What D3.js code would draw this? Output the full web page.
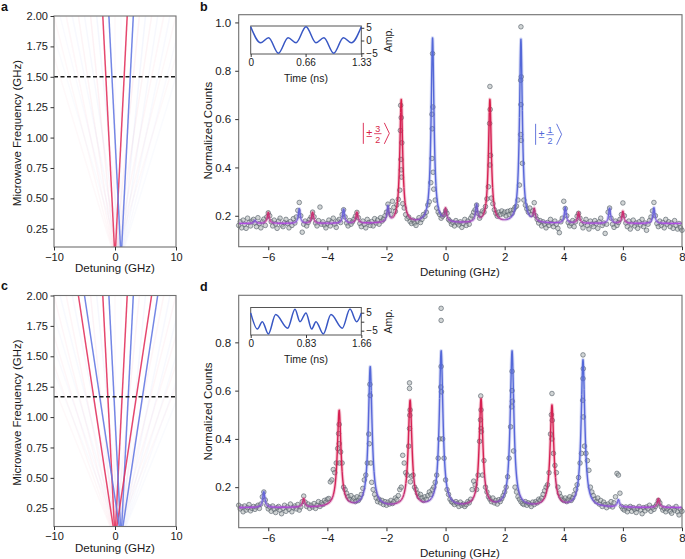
<!DOCTYPE html>
<html><head><meta charset="utf-8">
<script src="https://cdn.jsdelivr.net/npm/d3@7"></script>
<style>body{margin:0;background:#fff}</style>
</head><body>
<script>
// ---------------- DATA ----------------
// Fan diagrams (panels a, c)
const fanDetDomain = [-10, 10];
const fanFreqDomain = [0.1, 2.0];
const fanFreqTicks = [0.25, 0.5, 0.75, 1.0, 1.25, 1.5, 1.75, 2.0];
const fanDetTicks = [-10, 0, 10];
const fanRedOffset = 0.0;   // |±3/2> line origin (GHz)
const fanBlueOffset = 1.0;  // |±1/2> line origin (GHz)
const fanOrders = [0, 1, 2, 3, 4, 5, 6, 7, 8];
const fanAlphaA = [0.03, 0.9, 0.07, 0.055, 0.045, 0.035, 0.03, 0, 0];
const fanAlphaC = [0.03, 0.9, 0.06, 0.9, 0.05, 0.045, 0.04, 0.035, 0.03];
const dashFreqA = 1.5;
const dashFreqC = 1.167;

// Spectra (panels b, d)
const detDomain = [-7, 8];
const detTicks = [-6, -4, -2, 0, 2, 4, 6, 8];
const countDomainB = [0.072, 1.032];
const countTicksB = [0.2, 0.4, 0.6, 0.8, 1.0];
const countDomainD = [0.032, 0.995];
const countTicksD = [0.2, 0.4, 0.6, 0.8];

// fitted peaks, panel b
const baselineB = 0.168;
const peakCentersB = [-6.45,-6.0,-4.95,-4.5,-3.45,-3.0,-1.95,-1.5,-0.44,0.0,1.05,1.5,2.55,3.0,4.05,4.5,5.55,6.0,7.05];
const peakKindsB   = ["b","r","b","r","b","r","b","r","b","r","b","r","b","r","b","r","b","r","b"];
const peakAmpsB    = [0.012,0.045,0.06,0.045,0.058,0.045,0.065,0.51,0.765,0.05,0.07,0.51,0.76,0.05,0.065,0.045,0.062,0.05,0.065];
const peakWidthsB  = [0.04,0.04,0.04,0.04,0.04,0.04,0.04,0.058,0.058,0.04,0.04,0.058,0.058,0.04,0.04,0.04,0.04,0.04,0.04];

// fitted peaks, panel d
const baselineD = 0.115;
const peakCentersD = [-6.15,-4.8,-3.6,-2.55,-1.2,-0.15,1.2,2.25,3.6,4.65,5.85,7.2];
const peakKindsD   = ["b","r","r","b","r","b","r","b","r","b","b","r"];
const peakAmpsD    = [0.065,0.035,0.40,0.58,0.44,0.645,0.445,0.645,0.42,0.61,0.03,0.036];
const peakWidthsD  = [0.045,0.045,0.075,0.075,0.075,0.075,0.075,0.075,0.075,0.075,0.045,0.045];

// measured counts, panel b  [detuning GHz, normalized counts]
const countsB = [
[-7.00,0.160],[-6.95,0.175],[-6.90,0.150],[-6.85,0.182],[-6.80,0.165],[-6.75,0.148],[-6.70,0.190],[-6.65,0.172],[-6.60,0.158],[-6.55,0.178],
[-6.50,0.185],[-6.45,0.170],[-6.40,0.155],[-6.35,0.192],[-6.30,0.168],[-6.25,0.150],[-6.20,0.176],[-6.15,0.186],[-6.10,0.160],[-6.05,0.195],
[-6.00,0.212],[-5.95,0.200],[-5.90,0.175],[-5.85,0.158],[-5.80,0.182],[-5.75,0.166],[-5.70,0.148],[-5.65,0.178],[-5.60,0.190],[-5.55,0.162],
[-5.50,0.155],[-5.45,0.172],[-5.40,0.185],[-5.35,0.168],[-5.30,0.150],[-5.25,0.176],[-5.20,0.160],[-5.15,0.188],[-5.10,0.170],[-5.05,0.195],
[-5.00,0.222],[-4.95,0.255],[-4.90,0.200],[-4.85,0.132],[-4.80,0.165],[-4.75,0.178],[-4.70,0.158],[-4.65,0.172],[-4.60,0.185],[-4.55,0.195],
[-4.50,0.215],[-4.45,0.196],[-4.40,0.170],[-4.35,0.158],[-4.30,0.180],[-4.25,0.236],[-4.20,0.165],[-4.15,0.175],[-4.10,0.162],[-4.05,0.150],
[-4.00,0.168],[-3.95,0.182],[-3.90,0.158],[-3.85,0.174],[-3.80,0.190],[-3.75,0.165],[-3.70,0.152],[-3.65,0.178],[-3.60,0.185],[-3.55,0.172],
[-3.50,0.205],[-3.45,0.225],[-3.40,0.195],[-3.35,0.170],[-3.30,0.158],[-3.25,0.180],[-3.20,0.165],[-3.15,0.175],[-3.10,0.186],[-3.05,0.198],
[-3.00,0.214],[-2.95,0.192],[-2.90,0.168],[-2.85,0.155],[-2.80,0.178],[-2.75,0.164],[-2.70,0.150],[-2.65,0.185],[-2.60,0.172],[-2.55,0.160],
[-2.50,0.176],[-2.45,0.158],[-2.40,0.188],[-2.35,0.170],[-2.30,0.182],[-2.25,0.165],[-2.20,0.192],[-2.15,0.178],[-2.10,0.186],[-2.05,0.200],
[-2.00,0.215],[-1.95,0.248],[-1.90,0.222],[-1.85,0.205],[-1.80,0.260],[-1.75,0.235],[-1.70,0.218],[-1.65,0.245],[-1.60,0.268],[-1.55,0.306],
[-1.50,0.390],[-1.45,0.250],[-1.40,0.232],[-1.35,0.205],[-1.30,0.188],[-1.25,0.195],[-1.20,0.176],[-1.15,0.168],[-1.10,0.182],[-1.05,0.170],
[-1.00,0.160],[-0.95,0.178],[-0.90,0.192],[-0.85,0.172],[-0.80,0.185],[-0.75,0.205],[-0.70,0.198],[-0.65,0.215],[-0.60,0.245],[-0.55,0.258],
[-0.50,0.337],[-0.45,0.560],[-0.40,0.310],[-0.35,0.265],[-0.30,0.232],[-0.25,0.215],[-0.20,0.205],[-0.15,0.190],[-0.10,0.198],[-0.05,0.205],
[0.00,0.220],[0.05,0.210],[0.10,0.185],[0.15,0.178],[0.20,0.165],[0.25,0.172],[0.30,0.158],[0.35,0.180],[0.40,0.170],[0.45,0.162],
[0.50,0.175],[0.55,0.152],[0.60,0.168],[0.65,0.185],[0.70,0.160],[0.75,0.178],[0.80,0.165],[0.85,0.190],[0.90,0.200],[0.95,0.215],
[1.00,0.225],[1.05,0.244],[1.10,0.210],[1.15,0.190],[1.20,0.205],[1.25,0.220],[1.30,0.215],[1.35,0.238],[1.40,0.270],[1.45,0.320],
[1.50,0.410],[1.55,0.273],[1.60,0.250],[1.65,0.225],[1.70,0.210],[1.75,0.198],[1.80,0.215],[1.85,0.205],[1.90,0.220],[1.95,0.208],
[2.00,0.215],[2.05,0.200],[2.10,0.218],[2.15,0.205],[2.20,0.222],[2.25,0.210],[2.30,0.225],[2.35,0.235],[2.40,0.240],[2.45,0.265],
[2.50,0.327],[2.55,0.660],[2.60,0.417],[2.65,0.265],[2.70,0.244],[2.75,0.228],[2.80,0.215],[2.85,0.232],[2.90,0.205],[2.95,0.220],
[3.00,0.254],[3.05,0.200],[3.10,0.185],[3.15,0.170],[3.20,0.180],[3.25,0.158],[3.30,0.175],[3.35,0.165],[3.40,0.150],[3.45,0.172],
[3.50,0.160],[3.55,0.185],[3.60,0.168],[3.65,0.155],[3.70,0.178],[3.75,0.165],[3.80,0.148],[3.85,0.130],[3.90,0.175],[3.95,0.190],
[4.00,0.260],[4.05,0.230],[4.10,0.200],[4.15,0.172],[4.20,0.158],[4.25,0.168],[4.30,0.180],[4.35,0.155],[4.40,0.175],[4.45,0.198],
[4.50,0.210],[4.55,0.190],[4.60,0.165],[4.65,0.150],[4.70,0.172],[4.75,0.185],[4.80,0.160],[4.85,0.145],[4.90,0.178],[4.95,0.165],
[5.00,0.155],[5.05,0.180],[5.10,0.168],[5.15,0.148],[5.20,0.175],[5.25,0.190],[5.30,0.160],[5.35,0.170],[5.40,0.127],[5.45,0.165],
[5.50,0.215],[5.55,0.232],[5.60,0.190],[5.65,0.165],[5.70,0.152],[5.75,0.178],[5.80,0.160],[5.85,0.172],[5.90,0.185],[5.95,0.205],
[6.00,0.253],[6.05,0.200],[6.10,0.170],[6.15,0.155],[6.20,0.178],[6.25,0.145],[6.30,0.165],[6.35,0.182],[6.40,0.158],[6.45,0.170],
[6.50,0.148],[6.55,0.175],[6.60,0.162],[6.65,0.185],[6.70,0.155],[6.75,0.170],[6.80,0.140],[6.85,0.165],[6.90,0.180],[6.95,0.195],
[7.00,0.220],[7.05,0.255],[7.10,0.200],[7.15,0.168],[7.20,0.155],[7.25,0.178],[7.30,0.160],[7.35,0.172],[7.40,0.150],[7.45,0.185],
[7.50,0.165],[7.55,0.175],[7.60,0.155],[7.65,0.170],[7.70,0.148],[7.75,0.180],[7.80,0.160],[7.85,0.145],[7.90,0.168],[7.95,0.150],[8.00,0.140],
[-1.52,0.657],[-1.50,0.606],[-1.53,0.553],[-1.48,0.502],[-1.51,0.433],[-1.49,0.360],
[-0.44,0.871],[-0.43,0.650],[-0.46,0.620],[-0.46,0.437],[-0.42,0.380],
[1.50,0.735],[1.51,0.640],[1.49,0.582],[1.52,0.450],
[2.55,0.982],[2.56,0.775],[2.54,0.761],[2.54,0.536],[2.56,0.512]
];

// measured counts, panel d
const countsD = [
[-7.00,0.125],[-6.95,0.110],[-6.90,0.118],[-6.85,0.098],[-6.80,0.122],[-6.75,0.105],[-6.70,0.115],[-6.65,0.128],[-6.60,0.102],[-6.55,0.112],
[-6.50,0.120],[-6.45,0.108],[-6.40,0.118],[-6.35,0.125],[-6.30,0.112],[-6.25,0.130],[-6.20,0.160],[-6.15,0.180],[-6.10,0.147],[-6.05,0.125],
[-6.00,0.110],[-5.95,0.118],[-5.90,0.100],[-5.85,0.122],[-5.80,0.108],[-5.75,0.095],[-5.70,0.115],[-5.65,0.120],[-5.60,0.105],[-5.55,0.090],
[-5.50,0.112],[-5.45,0.125],[-5.40,0.100],[-5.35,0.118],[-5.30,0.108],[-5.25,0.130],[-5.20,0.098],[-5.15,0.115],[-5.10,0.122],[-5.05,0.110],
[-5.00,0.128],[-4.95,0.105],[-4.90,0.118],[-4.85,0.140],[-4.80,0.163],[-4.75,0.138],[-4.70,0.120],[-4.65,0.130],[-4.60,0.112],[-4.55,0.125],
[-4.50,0.118],[-4.45,0.132],[-4.40,0.112],[-4.35,0.125],[-4.30,0.140],[-4.25,0.120],[-4.20,0.135],[-4.15,0.128],[-4.10,0.145],[-4.05,0.138],
[-4.00,0.150],[-3.95,0.153],[-3.90,0.222],[-3.85,0.230],[-3.80,0.273],[-3.75,0.260],[-3.70,0.300],[-3.65,0.360],[-3.60,0.380],[-3.55,0.346],
[-3.50,0.300],[-3.45,0.200],[-3.40,0.190],[-3.35,0.175],[-3.30,0.160],[-3.25,0.150],[-3.20,0.165],[-3.15,0.145],[-3.10,0.155],[-3.05,0.140],
[-3.00,0.160],[-2.95,0.145],[-2.90,0.155],[-2.85,0.170],[-2.80,0.195],[-2.75,0.230],[-2.70,0.250],[-2.65,0.300],[-2.60,0.420],[-2.55,0.580],
[-2.50,0.220],[-2.45,0.190],[-2.40,0.170],[-2.35,0.155],[-2.30,0.140],[-2.25,0.150],[-2.20,0.135],[-2.15,0.145],[-2.10,0.128],[-2.05,0.140],
[-2.00,0.125],[-1.95,0.138],[-1.90,0.130],[-1.85,0.145],[-1.80,0.132],[-1.75,0.140],[-1.70,0.155],[-1.65,0.148],[-1.60,0.165],[-1.55,0.190],
[-1.50,0.200],[-1.45,0.332],[-1.40,0.300],[-1.35,0.260],[-1.30,0.250],[-1.25,0.370],[-1.20,0.520],[-1.15,0.245],[-1.10,0.250],[-1.05,0.200],
[-1.00,0.190],[-0.95,0.175],[-0.90,0.160],[-0.85,0.170],[-0.80,0.155],[-0.75,0.145],[-0.70,0.160],[-0.65,0.150],[-0.60,0.165],[-0.55,0.180],
[-0.50,0.170],[-0.45,0.190],[-0.40,0.200],[-0.35,0.220],[-0.30,0.250],[-0.25,0.320],[-0.20,0.400],[-0.15,0.700],[-0.10,0.400],[-0.05,0.320],
[0.00,0.230],[0.05,0.190],[0.10,0.170],[0.15,0.150],[0.20,0.140],[0.25,0.135],[0.30,0.128],[0.35,0.140],[0.40,0.132],[0.45,0.120],
[0.50,0.138],[0.55,0.125],[0.60,0.130],[0.65,0.120],[0.70,0.128],[0.75,0.140],[0.80,0.135],[0.85,0.150],[0.90,0.190],[0.95,0.225],
[1.00,0.210],[1.05,0.190],[1.10,0.250],[1.15,0.390],[1.20,0.520],[1.25,0.250],[1.30,0.310],[1.35,0.200],[1.40,0.180],[1.45,0.160],
[1.50,0.150],[1.55,0.140],[1.60,0.155],[1.65,0.135],[1.70,0.145],[1.75,0.130],[1.80,0.148],[1.85,0.140],[1.90,0.152],[1.95,0.165],
[2.00,0.180],[2.05,0.200],[2.10,0.243],[2.15,0.320],[2.20,0.450],[2.25,0.600],[2.30,0.350],[2.35,0.200],[2.40,0.180],[2.45,0.160],
[2.50,0.150],[2.55,0.140],[2.60,0.132],[2.65,0.128],[2.70,0.140],[2.75,0.125],[2.80,0.135],[2.85,0.130],[2.90,0.120],[2.95,0.138],
[3.00,0.128],[3.05,0.140],[3.10,0.135],[3.15,0.150],[3.20,0.145],[3.25,0.155],[3.30,0.170],[3.35,0.185],[3.40,0.200],[3.45,0.210],
[3.50,0.260],[3.55,0.420],[3.60,0.400],[3.65,0.340],[3.70,0.290],[3.75,0.260],[3.80,0.200],[3.85,0.175],[3.90,0.160],[3.95,0.150],
[4.00,0.145],[4.05,0.155],[4.10,0.140],[4.15,0.150],[4.20,0.160],[4.25,0.145],[4.30,0.155],[4.35,0.170],[4.40,0.190],[4.45,0.210],
[4.50,0.240],[4.55,0.300],[4.60,0.340],[4.65,0.650],[4.70,0.370],[4.75,0.340],[4.80,0.310],[4.85,0.270],[4.90,0.200],[4.95,0.180],
[5.00,0.165],[5.05,0.150],[5.10,0.140],[5.15,0.155],[5.20,0.130],[5.25,0.145],[5.30,0.120],[5.35,0.138],[5.40,0.128],[5.45,0.115],
[5.50,0.130],[5.55,0.122],[5.60,0.140],[5.65,0.118],[5.70,0.135],[5.75,0.160],[5.80,0.257],[5.85,0.250],[5.90,0.175],[5.95,0.120],
[6.00,0.110],[6.05,0.105],[6.10,0.118],[6.15,0.098],[6.20,0.112],[6.25,0.120],[6.30,0.100],[6.35,0.115],[6.40,0.108],[6.45,0.095],
[6.50,0.112],[6.55,0.120],[6.60,0.105],[6.65,0.090],[6.70,0.115],[6.75,0.102],[6.80,0.118],[6.85,0.110],[6.90,0.125],[6.95,0.100],
[7.00,0.115],[7.05,0.108],[7.10,0.120],[7.15,0.130],[7.20,0.145],[7.25,0.135],[7.30,0.118],[7.35,0.105],[7.40,0.112],[7.45,0.098],
[7.50,0.110],[7.55,0.118],[7.60,0.100],[7.65,0.092],[7.70,0.112],[7.75,0.105],[7.80,0.120],[7.85,0.098],[7.90,0.085],[7.95,0.108],[8.00,0.100],
[-3.62,0.422],[-3.60,0.460],[-3.59,0.300],
[-2.56,0.626],[-2.58,0.380],[-2.53,0.300],
[-1.22,0.632],[-1.22,0.609],[-1.21,0.498],[-1.22,0.443],[-1.19,0.222],
[-0.15,0.941],[-0.15,0.891],[-0.16,0.615],[-0.14,0.595],
[1.19,0.578],[1.18,0.479],[1.20,0.443],[1.21,0.430],
[2.25,0.680],[2.26,0.556],[2.24,0.533],
[3.60,0.588],[3.61,0.477],[3.58,0.500],
[4.65,0.748],[4.66,0.691],[4.64,0.560],[4.66,0.491]
];

// insets: drive waveform (time ns, amplitude)
const insetTimeB = [0,0.12,0.215,0.333,0.45,0.545,0.665,0.785,0.88,0.998,1.115,1.21,1.33];
const insetAmpB  = [5.4,-0.9,1.1,-5.0,1.1,-0.9,5.4,-0.9,1.1,-5.0,1.1,-0.9,5.4];
const insetTicksB = [0, 0.66, 1.33];
const insetDomainB = [-5.3, 5.7];
const insetAmpLabelsB = ["5", "0", "\u22125"];
const insetTimeD = [0,0.1,0.175,0.265,0.375,0.555,0.665,0.74,0.83,0.915,0.98,1.09,1.205,1.375,1.49,1.59,1.66];
const insetAmpD  = [4.9,-4.1,0,-6.8,4.0,-3.6,6.9,0,4.9,-4.1,0,-6.8,4.0,-3.6,7.0,0,4.9];
const insetTicksD = [0, 0.83, 1.66];
const insetDomainD = [-7.4, 7.9];
const insetAmpLabelsD = ["5", "", "\u22125"];
const insetAmpTicks = [5, 0, -5];

// ket annotations (panel b)
const ketNums = ["3", "1"];
const ketKinds = ["r", "b"];
const ketDet = [-2.8, 3.03];
const ketCounts = [0.541, 0.537];

// ---------------- DRAWING ----------------
const FONT = '"Liberation Sans", Arial, Helvetica, sans-serif';
const RED = "#d81f4a", BLUE = "#5468d8", PURPLE = "#b14ce6";
const FAN_RED = "#e2335e", FAN_BLUE = "#6579e2";
const FRAME = "#707070";

const svg = d3.select("body").append("svg").attr("width", 685).attr("height", 559)
  .style("font-family", FONT);

function styleAxis(sel, fs) {
  sel.select("path.domain").remove();
  sel.selectAll(".tick line").attr("stroke", "#333").attr("stroke-width", 1);
  sel.selectAll(".tick text").attr("font-family", FONT).attr("font-size", fs).attr("fill", "#1a1a1a");
}
function frame(g, x0, y0, x1, y1) {
  g.append("rect").attr("x", x0).attr("y", y0).attr("width", x1 - x0).attr("height", y1 - y0)
    .attr("fill", "none").attr("stroke", FRAME).attr("stroke-width", 1.1);
}
function letter(t, x, y) {
  svg.append("text").attr("x", x).attr("y", y).attr("font-size", 12.5).attr("font-weight", "bold")
    .attr("fill", "#111").text(t);
}

function fanPanel(top, alphas, dashFreq, id) {
  const L = 54, R = 176, bottom = top + 231;
  const x = d3.scaleLinear().domain(fanDetDomain).range([L, R]);
  const y = d3.scaleLinear().domain(fanFreqDomain).range([bottom, top]);
  const g = svg.append("g");
  svg.append("clipPath").attr("id", id).append("rect")
    .attr("x", L).attr("y", top).attr("width", R - L).attr("height", bottom - top);
  const lg = g.append("g").attr("clip-path", `url(#${id})`);
  const lines = [];
  fanOrders.forEach((n, i) => {
    const a = alphas[i];
    if (!a) return;
    [[fanRedOffset, FAN_RED], [fanBlueOffset, FAN_BLUE]].forEach(([c, col]) => {
      (n === 0 ? [1] : [-1, 1]).forEach(s => lines.push({ c, s, n, a, col }));
    });
  });
  lines.sort((p, q) => p.a - q.a);
  lg.selectAll("line.fan").data(lines).join("line").attr("class", "fan")
    .attr("x1", d => x(d.c + d.s * d.n * fanFreqDomain[0])).attr("y1", y(fanFreqDomain[0]))
    .attr("x2", d => x(d.c + d.s * d.n * fanFreqDomain[1])).attr("y2", y(fanFreqDomain[1]))
    .attr("stroke", d => d.col).attr("stroke-opacity", d => d.a).attr("stroke-width", 1.5);
  lg.append("line").attr("x1", x(fanDetDomain[0])).attr("x2", x(fanDetDomain[1]))
    .attr("y1", y(dashFreq)).attr("y2", y(dashFreq))
    .attr("stroke", "#1a1a1a").attr("stroke-width", 1.5).attr("stroke-dasharray", "4,2.5");
  frame(g, L, top, R, bottom);
  g.append("g").attr("transform", `translate(${L},0)`)
    .call(d3.axisLeft(y).tickValues(fanFreqTicks).tickFormat(d3.format(".2f")).tickSize(3.5).tickPadding(2.5))
    .call(s => styleAxis(s, 11));
  g.append("g").attr("transform", `translate(0,${bottom})`)
    .call(d3.axisBottom(x).tickValues(fanDetTicks).tickFormat(d3.format("d")).tickSize(3.5).tickPadding(2.5))
    .call(s => styleAxis(s, 11));
  g.append("text").attr("transform", `translate(17,${top + 117}) rotate(-90)`)
    .attr("text-anchor", "middle").attr("dominant-baseline", "central").attr("font-size", 11.5).attr("fill", "#1a1a1a")
    .text("Microwave Frequency (GHz)");
  g.append("text").attr("x", (L + R) / 2).attr("y", bottom + 25).attr("text-anchor", "middle")
    .attr("font-size", 11.5).attr("fill", "#1a1a1a").text("Detuning (GHz)");
}

function specPanel(o) {
  const L = 238.7, R = 682;
  const x = d3.scaleLinear().domain(detDomain).range([L, R]);
  const y = d3.scaleLinear().domain(o.yDomain).range([o.bottom, o.top]);
  const g = svg.append("g");
  const comps = o.centers.map((c, i) => ({ c, a: o.amps[i], w: o.widths[i], k: o.kinds[i] }));
  const xs = d3.range(detDomain[0], detDomain[1] + 1e-9, 0.004).concat(o.centers).sort((a, b) => a - b);
  const samples = xs.map(v => {
    let Rr = 0, Bb = 0;
    comps.forEach(p => {
      const l = p.a * p.w * p.w / ((v - p.c) * (v - p.c) + p.w * p.w);
      if (p.k === "r") Rr += l; else Bb += l;
    });
    return { v, val: o.baseline + Rr + Bb, R: Rr, B: Bb };
  });
  const colorOf = s => {
    const tot = s.R + s.B;
    const t = Math.round(tot / (tot + 0.012) * 20) / 20;
    const m = Math.round(s.R / (tot + 1e-12) * 10) / 10;
    return d3.interpolateRgb(PURPLE, d3.interpolateRgb(BLUE, RED)(m))(t);
  };
  const runs = [];
  let cur = null;
  samples.forEach(s => {
    const c = colorOf(s);
    if (!cur || cur.c !== c) {
      const pts = cur ? [cur.pts[cur.pts.length - 1]] : [];
      cur = { c, pts };
      runs.push(cur);
    }
    cur.pts.push(s);
  });
  const line = d3.line().x(s => x(s.v)).y(s => y(s.val));
  g.append("g").selectAll("circle").data(o.pts).join("circle")
    .attr("cx", d => x(d[0])).attr("cy", d => y(d[1])).attr("r", 2.3)
    .attr("fill", "#a3abab").attr("fill-opacity", 0.5)
    .attr("stroke", "#56606a").attr("stroke-opacity", 0.8).attr("stroke-width", 0.8);
  const fg = g.append("g");
  fg.selectAll("path.halo").data(runs).join("path").attr("class", "halo")
    .attr("d", r => line(r.pts)).attr("fill", "none").attr("stroke", r => r.c)
    .attr("stroke-width", 3.4).attr("stroke-opacity", 0.25).attr("stroke-linejoin", "round");
  fg.selectAll("path.core").data(runs).join("path").attr("class", "core")
    .attr("d", r => line(r.pts)).attr("fill", "none").attr("stroke", r => r.c)
    .attr("stroke-width", 1.4).attr("stroke-linejoin", "round");
  frame(g, L, o.top, R, o.bottom);
  g.append("g").attr("transform", `translate(${L},0)`)
    .call(d3.axisLeft(y).tickValues(o.yTicks).tickFormat(d3.format(".1f")).tickSize(3.5).tickPadding(4))
    .call(s => styleAxis(s, 11.5));
  g.append("g").attr("transform", `translate(0,${o.bottom})`)
    .call(d3.axisBottom(x).tickValues(detTicks).tickFormat(d3.format("d")).tickSize(3.5).tickPadding(3))
    .call(s => styleAxis(s, 11.5));
  g.append("text").attr("transform", `translate(207.5,${(o.top + o.bottom) / 2}) rotate(-90)`)
    .attr("text-anchor", "middle").attr("dominant-baseline", "central").attr("font-size", 11.5).attr("fill", "#1a1a1a")
    .text("Normalized Counts");
  g.append("text").attr("x", 460).attr("y", o.bottom + 29).attr("text-anchor", "middle")
    .attr("font-size", 11.5).attr("fill", "#1a1a1a").text("Detuning (GHz)");

  // inset
  const iL = 250.7, iR = 361.3, iT = o.insetTop, iB = o.insetTop + o.insetH;
  const ix = d3.scaleLinear().domain([0, o.insetTicks[o.insetTicks.length - 1]]).range([iL, iR]);
  const iy = d3.scaleLinear().domain(o.insetDomain).range([iB, iT]);
  const ig = g.append("g");
  ig.append("rect").attr("x", iL).attr("y", iT).attr("width", iR - iL).attr("height", iB - iT)
    .attr("fill", "#fff").attr("stroke", "#555").attr("stroke-width", 1);
  const pts = o.insetT.map((t, i) => [t, o.insetA[i]]);
  ig.append("path").attr("d", d3.line().x(d => ix(d[0])).y(d => iy(d[1])).curve(d3.curveMonotoneX)(pts))
    .attr("fill", "none").attr("stroke", "#3857c4").attr("stroke-width", 1.5);
  ig.append("g").attr("transform", `translate(0,${iB})`)
    .call(d3.axisBottom(ix).tickValues(o.insetTicks).tickFormat((d, i) => o.insetTickLabels[i]).tickSize(3).tickPadding(2))
    .call(s => styleAxis(s, 10));
  ig.append("g").attr("transform", `translate(${iR},0)`)
    .call(d3.axisRight(iy).tickValues(insetAmpTicks).tickFormat((d, i) => o.insetAmpLabels[i]).tickSize(3).tickPadding(2))
    .call(s => styleAxis(s, 10));
  ig.append("text").attr("x", (iL + iR) / 2).attr("y", iB + 28).attr("text-anchor", "middle")
    .attr("font-size", 10.5).attr("fill", "#1a1a1a").text("Time (ns)");
  ig.append("text").attr("transform", `translate(388,${(iT + iB) / 2}) rotate(-90)`)
    .attr("text-anchor", "middle").attr("dominant-baseline", "central").attr("font-size", 10.5).attr("fill", "#1a1a1a")
    .text("Amp.");

  // kets
  if (o.kets) {
    o.kets.forEach(k => {
      const x0 = x(k.det), yc = y(k.cnt), col = k.kind === "r" ? RED : BLUE;
      const kg = g.append("g").attr("fill", col).attr("stroke", "none");
      kg.append("line").attr("x1", x0 + 0.5).attr("x2", x0 + 0.5).attr("y1", yc - 10.5).attr("y2", yc + 10.5)
        .attr("stroke", col).attr("stroke-width", 0.9);
      kg.append("text").attr("x", x0 + 6.5).attr("y", yc + 4).attr("text-anchor", "middle").attr("font-size", 11).text("±");
      kg.append("text").attr("x", x0 + 15).attr("y", yc - 1.8).attr("text-anchor", "middle").attr("font-size", 9).text(k.num);
      kg.append("line").attr("x1", x0 + 11.3).attr("x2", x0 + 18.7).attr("y1", yc + 0.3).attr("y2", yc + 0.3)
        .attr("stroke", col).attr("stroke-width", 0.8);
      kg.append("text").attr("x", x0 + 15).attr("y", yc + 9.6).attr("text-anchor", "middle").attr("font-size", 9).text("2");
      kg.append("path").attr("d", `M${x0 + 21.5},${yc - 10.5}L${x0 + 26.5},${yc}L${x0 + 21.5},${yc + 10.5}`)
        .attr("fill", "none").attr("stroke", col).attr("stroke-width", 0.9);
    });
  }
}

fanPanel(16, fanAlphaA, dashFreqA, "clipA");
fanPanel(295.5, fanAlphaC, dashFreqC, "clipC");

specPanel({
  top: 14.7, bottom: 246.7, yDomain: countDomainB, yTicks: countTicksB,
  centers: peakCentersB, kinds: peakKindsB, amps: peakAmpsB, widths: peakWidthsB, baseline: baselineB,
  pts: countsB, insetTop: 26, insetH: 28, insetT: insetTimeB, insetA: insetAmpB,
  insetTicks: insetTicksB, insetTickLabels: ["0", "0.66", "1.33"], insetDomain: insetDomainB,
  insetAmpLabels: insetAmpLabelsB,
  kets: ketNums.map((n, i) => ({ num: n, kind: ketKinds[i], det: ketDet[i], cnt: ketCounts[i] }))
});
specPanel({
  top: 295.3, bottom: 527.7, yDomain: countDomainD, yTicks: countTicksD,
  centers: peakCentersD, kinds: peakKindsD, amps: peakAmpsD, widths: peakWidthsD, baseline: baselineD,
  pts: countsD, insetTop: 307.5, insetH: 27.5, insetT: insetTimeD, insetA: insetAmpD,
  insetTicks: insetTicksD, insetTickLabels: ["0", "0.83", "1.66"], insetDomain: insetDomainD,
  insetAmpLabels: insetAmpLabelsD,
  kets: null
});

letter("a", 1, 10.5);
letter("b", 200, 10.5);
letter("c", 1, 290);
letter("d", 200, 291);
</script>
</body></html>
